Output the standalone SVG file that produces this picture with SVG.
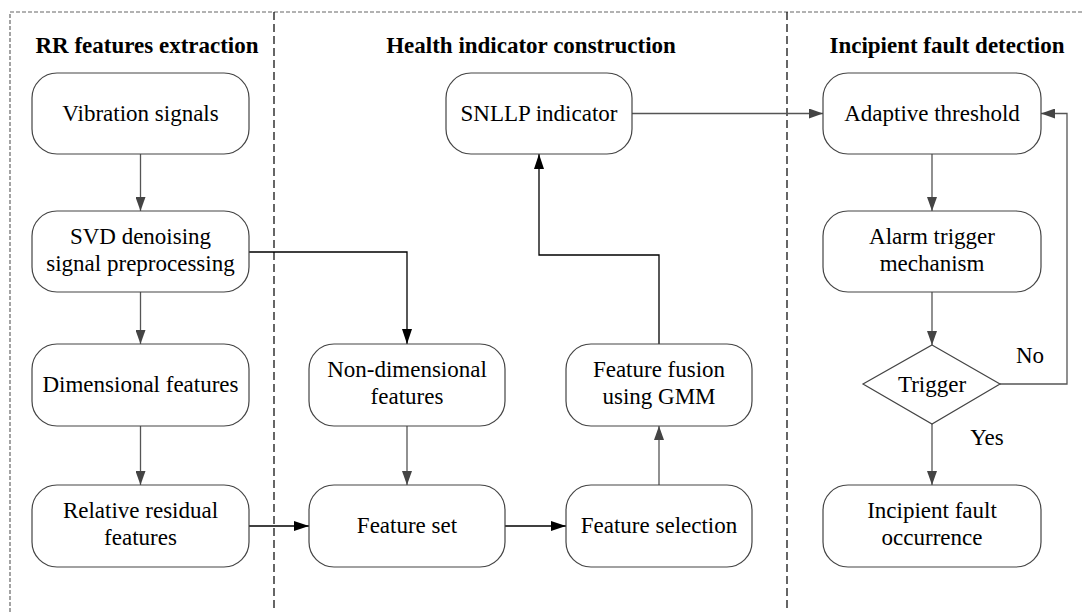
<svg xmlns="http://www.w3.org/2000/svg" width="1084" height="612" viewBox="0 0 1084 612">
<style>
.box{fill:#fff;stroke:#444;stroke-width:1.2}
.t{font-family:"Liberation Serif","Times New Roman",serif;font-size:23px;fill:#000;text-anchor:middle}
.h{font-family:"Liberation Serif","Times New Roman",serif;font-size:23px;font-weight:bold;fill:#000;text-anchor:middle}
.g{fill:none;stroke:#555;stroke-width:1.3}
.k{fill:none;stroke:#000;stroke-width:1.3}
.frame{fill:none;stroke:#666;stroke-width:1.2;stroke-dasharray:4 2}
.div{fill:none;stroke:#000;stroke-width:1.2;stroke-dasharray:8 4}
</style>
<defs>
<marker id="ag" markerUnits="userSpaceOnUse" markerWidth="14" markerHeight="10" refX="14" refY="5" orient="auto"><path d="M0,0 L14,5 L0,10 z" fill="#444"/></marker>
<marker id="ak" markerUnits="userSpaceOnUse" markerWidth="15" markerHeight="10" refX="15" refY="5" orient="auto"><path d="M0,0 L15,5 L0,10 z" fill="#000"/></marker>
</defs>
<g id="frame">
<path class="frame" d="M10,612 V12 H1084"/>
<line class="div" x1="274" y1="12" x2="274" y2="612"/>
<line class="div" x1="787" y1="12" x2="787" y2="612"/>
<text class="h" x="147" y="53">RR features extraction</text>
<text class="h" x="531" y="53">Health indicator construction</text>
<text class="h" x="947" y="53">Incipient fault detection</text>
</g>
<g id="connectors">
<line class="g" x1="140.5" y1="154" x2="140.5" y2="211" marker-end="url(#ag)"/>
<line class="g" x1="140.5" y1="292" x2="140.5" y2="344" marker-end="url(#ag)"/>
<line class="g" x1="140.5" y1="426" x2="140.5" y2="485" marker-end="url(#ag)"/>
<path class="k" d="M249,252 H407 V344" marker-end="url(#ak)"/>
<line class="k" x1="249" y1="526" x2="309" y2="526" marker-end="url(#ak)"/>
<line class="g" x1="407" y1="426" x2="407" y2="485" marker-end="url(#ag)"/>
<line class="k" x1="505" y1="526" x2="566" y2="526" marker-end="url(#ak)"/>
<line class="g" x1="659" y1="485" x2="659" y2="426" marker-end="url(#ag)"/>
<path class="k" d="M659,344 V255 H539 V154" marker-end="url(#ak)"/>
<line class="g" x1="632" y1="113.5" x2="823" y2="113.5" marker-end="url(#ag)"/>
<line class="g" x1="932" y1="154" x2="932" y2="211" marker-end="url(#ag)"/>
<line class="g" x1="932" y1="292" x2="932" y2="345" marker-end="url(#ag)"/>
<line class="g" x1="932" y1="424" x2="932" y2="485" marker-end="url(#ag)"/>
<path class="g" d="M1000,384 H1067 V113.5 H1041" marker-end="url(#ag)"/>
<text class="t" x="1030" y="363">No</text>
<text class="t" x="987" y="445">Yes</text>
</g>
<g id="n-vibration"><rect class="box" x="32" y="73" width="217" height="81" rx="25"/><text class="t" x="140.5" y="121">Vibration signals</text></g>
<g id="n-svd"><rect class="box" x="32" y="211" width="217" height="81" rx="25"/><text class="t" x="140.5" y="244">SVD denoising</text><text class="t" x="140.5" y="271">signal preprocessing</text></g>
<g id="n-dim"><rect class="box" x="32" y="344" width="217" height="82" rx="25"/><text class="t" x="140.5" y="392">Dimensional features</text></g>
<g id="n-rel"><rect class="box" x="32" y="485" width="217" height="82" rx="25"/><text class="t" x="140.5" y="518">Relative residual</text><text class="t" x="140.5" y="545">features</text></g>
<g id="n-nondim"><rect class="box" x="309" y="344" width="196" height="82" rx="25"/><text class="t" x="407" y="377">Non-dimensional</text><text class="t" x="407" y="404">features</text></g>
<g id="n-set"><rect class="box" x="309" y="485" width="196" height="82" rx="25"/><text class="t" x="407" y="533">Feature set</text></g>
<g id="n-sel"><rect class="box" x="566" y="485" width="186" height="82" rx="25"/><text class="t" x="659" y="533">Feature selection</text></g>
<g id="n-fusion"><rect class="box" x="566" y="344" width="186" height="82" rx="25"/><text class="t" x="659" y="377">Feature fusion</text><text class="t" x="659" y="404">using GMM</text></g>
<g id="n-snllp"><rect class="box" x="446" y="73" width="186" height="81" rx="25"/><text class="t" x="539" y="121">SNLLP indicator</text></g>
<g id="n-adaptive"><rect class="box" x="823" y="73" width="218" height="81" rx="25"/><text class="t" x="932" y="121">Adaptive threshold</text></g>
<g id="n-alarm"><rect class="box" x="823" y="211" width="218" height="81" rx="25"/><text class="t" x="932" y="244">Alarm trigger</text><text class="t" x="932" y="271">mechanism</text></g>
<g id="n-trigger"><polygon class="box" points="932,345 1000,384 932,424 863,384"/><text class="t" x="932" y="392">Trigger</text></g>
<g id="n-incipient"><rect class="box" x="823" y="485" width="218" height="82" rx="25"/><text class="t" x="932" y="518">Incipient fault</text><text class="t" x="932" y="545">occurrence</text></g>
</svg>
